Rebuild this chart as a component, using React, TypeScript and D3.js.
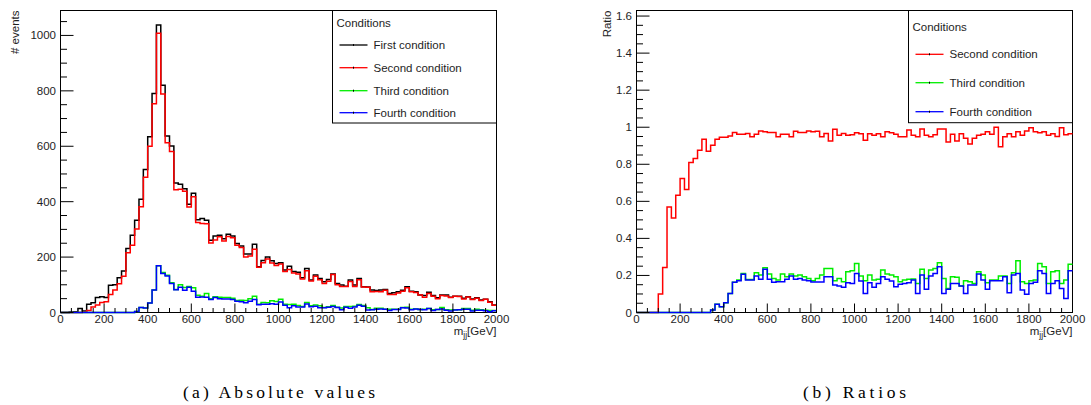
import React from "react";
import * as d3 from "d3";

// Dijet invariant-mass histograms, 20 GeV bins from 0 to 2000 GeV.
const BIN_WIDTH = 20;
const massBins = d3.range(0, 2000, BIN_WIDTH);

const firstCondition = [
  0, 0, 2, 3, 14, 5, 30, 35, 54, 57,
  54, 98, 100, 125, 150, 231, 279, 333, 409, 516,
  634, 790, 1038, 820, 637, 601, 467, 463, 447, 391,
  430, 335, 339, 333, 261, 276, 279, 266, 282, 276,
  249, 240, 211, 211, 246, 165, 188, 200, 187, 177,
  180, 153, 167, 148, 145, 125, 159, 117, 135, 123,
  111, 119, 139, 105, 99, 95, 117, 99, 123, 93,
  92, 81, 79, 81, 83, 69, 71, 75, 80, 93,
  77, 75, 63, 61, 73, 61, 53, 63, 63, 55,
  59, 59, 51, 57, 49, 53, 45, 48, 39, 27,
];

const secondCondition = [
  0, 0, 0, 0, 0, 0.5, 7, 20, 27, 36,
  39, 65, 81, 104, 131, 216, 243, 301, 382, 488,
  600, 753, 1008, 789, 613, 581, 443, 445, 438, 381,
  418, 325, 321, 320, 251, 262, 273, 258, 274, 270,
  243, 235, 200, 204, 228, 163, 180, 193, 179, 170,
  175, 148, 155, 143, 139, 121, 151, 114, 131, 118,
  105, 113, 137, 100, 94, 94, 112, 94, 118, 92,
  91, 75, 76, 75, 80, 65, 65, 70, 77, 89,
  75, 72, 63, 55, 69, 59, 50, 61, 60, 54,
  59, 58, 49, 56, 47, 51, 43, 48, 37, 26,
];

const thirdCondition = [
  0, 0, 0, 0, 0, 0, 0, 0, 0, 0,
  0, 0, 0, 0, 0, 0, 0, 4, 18, 16,
  34, 81, 169, 144, 134, 107, 83, 100, 90, 94,
  89, 62, 59, 69, 50, 57, 55, 54, 54, 51,
  43, 44, 43, 50, 59, 30, 36, 35, 42, 40,
  48, 30, 29, 30, 25, 22, 36, 24, 27, 24,
  18, 21, 25, 19, 16, 22, 22, 23, 29, 25,
  17, 11, 15, 15, 12, 12, 12, 12, 18, 19,
  12, 13, 11, 12, 14, 10, 11, 18, 10, 9,
  10, 10, 14, 14, 8, 12, 10, 8, 7, 7,
];

const fourthCondition = [
  0, 0, 0, 0, 0, 0, 0, 0, 0, 0,
  0, 0, 0, 0, 0, 0, 0, 4, 18, 16,
  34, 81, 169, 141, 132, 105, 82, 91, 80, 91,
  77, 55, 56, 55, 47, 54, 50, 49, 49, 47,
  41, 39, 35, 41, 47, 28, 30, 30, 32, 30,
  38, 26, 17, 24, 20, 20, 31, 21, 23, 17,
  17, 19, 22, 18, 10, 19, 15, 20, 26, 23,
  9, 10, 12, 13, 12, 7, 11, 11, 17, 16,
  10, 13, 11, 10, 14, 7, 11, 13, 8, 5,
  9, 10, 12, 12, 5, 8, 8, 6, 3, 6,
];

// Ratios to the first condition.
const ratioSecond = [
  0, 0, 0, 0, 0, 0.1, 0.243, 0.57, 0.51, 0.633,
  0.723, 0.664, 0.81, 0.831, 0.876, 0.935, 0.871, 0.903, 0.935, 0.946,
  0.946, 0.953, 0.971, 0.962, 0.962, 0.966, 0.948, 0.962, 0.98, 0.975,
  0.971, 0.971, 0.948, 0.962, 0.962, 0.948, 0.978, 0.971, 0.971, 0.98,
  0.975, 0.978, 0.948, 0.966, 0.925, 0.989, 0.957, 0.966, 0.957, 0.96,
  0.97, 0.965, 0.93, 0.965, 0.957, 0.965, 0.948, 0.975, 0.97, 0.962,
  0.948, 0.948, 0.985, 0.957, 0.948, 0.99, 0.957, 0.948, 0.96, 0.99,
  0.99, 0.92, 0.962, 0.925, 0.965, 0.94, 0.91, 0.94, 0.957, 0.962,
  0.975, 0.962, 1.0, 0.895, 0.948, 0.965, 0.948, 0.975, 0.957, 0.98,
  0.997, 0.975, 0.97, 0.975, 0.957, 0.965, 0.95, 0.997, 0.96, 0.965,
];

const ratioThird = [
  0, 0, 0, 0, 0, 0, 0, 0, 0, 0,
  0, 0, 0, 0, 0, 0, 0, 0.013, 0.044, 0.031,
  0.053, 0.103, 0.163, 0.176, 0.211, 0.178, 0.178, 0.215, 0.202, 0.241,
  0.208, 0.184, 0.175, 0.208, 0.193, 0.208, 0.197, 0.202, 0.193, 0.184,
  0.172, 0.184, 0.202, 0.238, 0.238, 0.172, 0.184, 0.166, 0.22, 0.226,
  0.265, 0.197, 0.172, 0.202, 0.175, 0.179, 0.229, 0.208, 0.202, 0.193,
  0.166, 0.175, 0.179, 0.181, 0.157, 0.233, 0.184, 0.229, 0.238, 0.269,
  0.184, 0.13, 0.193, 0.19, 0.143, 0.172, 0.166, 0.157, 0.22, 0.202,
  0.161, 0.175, 0.175, 0.197, 0.197, 0.157, 0.215, 0.279, 0.166, 0.157,
  0.172, 0.175, 0.265, 0.247, 0.157, 0.22, 0.226, 0.157, 0.175, 0.261,
];

const ratioFourth = [
  0, 0, 0, 0, 0, 0, 0, 0, 0, 0,
  0, 0, 0, 0, 0, 0, 0, 0.013, 0.044, 0.031,
  0.053, 0.103, 0.163, 0.172, 0.207, 0.175, 0.175, 0.197, 0.179, 0.233,
  0.179, 0.163, 0.166, 0.166, 0.179, 0.197, 0.179, 0.184, 0.175, 0.172,
  0.164, 0.164, 0.164, 0.193, 0.193, 0.148, 0.143, 0.136, 0.161, 0.157,
  0.211, 0.17, 0.103, 0.161, 0.136, 0.157, 0.193, 0.179, 0.17, 0.139,
  0.152, 0.157, 0.161, 0.175, 0.103, 0.202, 0.125, 0.197, 0.211, 0.247,
  0.103, 0.125, 0.157, 0.157, 0.143, 0.103, 0.148, 0.148, 0.208, 0.175,
  0.125, 0.172, 0.172, 0.172, 0.193, 0.107, 0.202, 0.211, 0.121, 0.098,
  0.157, 0.163, 0.226, 0.211, 0.103, 0.157, 0.172, 0.13, 0.076, 0.226,
];

const massTicks = [0, 200, 400, 600, 800, 1000, 1200, 1400, 1600, 1800, 2000];
const countTicks = [0, 200, 400, 600, 800, 1000];
const countTickLabels = ["0", "200", "400", "600", "800", "1000"];
const ratioTicks = [0, 0.2, 0.4, 0.6, 0.8, 1.0, 1.2, 1.4, 1.6];
const ratioTickLabels = ["0", "0.2", "0.4", "0.6", "0.8", "1", "1.2", "1.4", "1.6"];

const conditionNames = ["First condition", "Second condition", "Third condition", "Fourth condition"];
const conditionColors = ["#000000", "#ff0000", "#00ee00", "#0000ff"];

const FONT = "'Liberation Sans', Arial, Helvetica, sans-serif";
const TEXT = "#1e1e1e";

type Series = { name: string; color: string; values: number[] };

type PanelProps = {
  left: number;
  yMax: number;
  yTicks: number[];
  yTickLabels: string[];
  yMinorStep: number;
  yTitle: string;
  yTitleX: number;
  series: Series[];
  legendRows: number[];
  legendTitleY: number;
  legendBottom: number;
  caption: string;
  captionX: number;
  captionWidth: number;
};

const TOP = 10.5;
const BOTTOM = 312.5;
const WIDTH = 436;

function Panel(p: PanelProps) {
  const x0 = p.left;
  const x1 = p.left + WIDTH;
  const x = d3.scaleLinear().domain([0, 2000]).range([x0, x1]);
  const y = d3.scaleLinear().domain([0, p.yMax]).range([BOTTOM, TOP]);

  const step = (values: number[]) => {
    const pts: [number, number][] = values.map((v, i) => [massBins[i], v]);
    pts.push([massBins[massBins.length - 1] + BIN_WIDTH, values[values.length - 1]]);
    return d3
      .line<[number, number]>()
      .x((d) => x(d[0]))
      .y((d) => y(d[1]))
      .curve(d3.curveStepAfter)(pts) as string;
  };

  const xMinor = d3.range(0, 2001, 50).filter((v) => v % 200 !== 0);
  const yMinor = d3
    .range(0, p.yMax, p.yMinorStep)
    .filter((v) => !p.yTicks.some((t) => Math.abs(t - v) < 1e-6));

  const lgX0 = x1 - 164;
  const lineA = lgX0 + 7;
  const lineB = lgX0 + 35;
  const textX = lgX0 + 41;

  return (
    <g>
      <rect x={x0} y={TOP} width={WIDTH} height={BOTTOM - TOP} fill="#fff" stroke="#000" strokeWidth={1} />

      {p.series.map((s) => (
        <path key={s.name} d={step(s.values)} fill="none" stroke={s.color} strokeWidth={1.5} />
      ))}

      {/* x axis ticks */}
      {massTicks.map((t) => (
        <line key={"xm" + t} x1={x(t)} x2={x(t)} y1={BOTTOM} y2={BOTTOM - 9} stroke="#000" strokeWidth={1} />
      ))}
      {xMinor.map((t) => (
        <line key={"xn" + t} x1={x(t)} x2={x(t)} y1={BOTTOM} y2={BOTTOM - 4.5} stroke="#000" strokeWidth={1} />
      ))}
      {massTicks.map((t) => (
        <text key={"xl" + t} x={x(t)} y={BOTTOM + 10.5} textAnchor="middle" fontSize={11.5} fontFamily={FONT} fill={TEXT}>
          {t}
        </text>
      ))}

      {/* y axis ticks */}
      {p.yTicks.map((t) => (
        <line key={"ym" + t} x1={x0} x2={x0 + 13} y1={y(t)} y2={y(t)} stroke="#000" strokeWidth={1} />
      ))}
      {yMinor.map((t) => (
        <line key={"yn" + t} x1={x0} x2={x0 + 6.5} y1={y(t)} y2={y(t)} stroke="#000" strokeWidth={1} />
      ))}
      {p.yTicks.map((t, i) => (
        <text key={"yl" + t} x={x0 - 4.5} y={y(t) + 4} textAnchor="end" fontSize={11.5} fontFamily={FONT} fill={TEXT}>
          {p.yTickLabels[i]}
        </text>
      ))}

      {/* axis titles */}
      <text x={x1} y={335} textAnchor="end" fontSize={11.5} fontFamily={FONT} fill={TEXT}>
        m
        <tspan fontSize={8.5} dy={3}>jj</tspan>
        <tspan dy={-3}>[GeV]</tspan>
      </text>
      <text
        transform={`translate(${p.yTitleX},${TOP}) rotate(-90)`}
        textAnchor="end"
        fontSize={11.5}
        fontFamily={FONT}
        fill={TEXT}
      >
        {p.yTitle}
      </text>

      {/* legend */}
      <rect x={lgX0} y={TOP} width={164} height={p.legendBottom - TOP} fill="#fff" stroke="#000" strokeWidth={1} />
      <text x={lgX0 + 4} y={p.legendTitleY + 4} fontSize={11.5} fontFamily={FONT} fill={TEXT}>
        Conditions
      </text>
      {p.series.map((s, i) => (
        <g key={"lg" + s.name}>
          <line x1={lineA} x2={lineB} y1={p.legendRows[i]} y2={p.legendRows[i]} stroke={s.color} strokeWidth={1.3} />
          <line
            x1={(lineA + lineB) / 2}
            x2={(lineA + lineB) / 2}
            y1={p.legendRows[i] - 1}
            y2={p.legendRows[i] + 1}
            stroke="#000"
            strokeWidth={1}
          />
          <text x={textX} y={p.legendRows[i] + 4} fontSize={11.5} fontFamily={FONT} fill={TEXT}>
            {s.name}
          </text>
        </g>
      ))}

      {/* caption */}
      <text
        x={p.captionX}
        y={398}
        fontSize={17.5}
        fontFamily="'Liberation Serif', 'Times New Roman', serif"
        fill="#000"
        textLength={p.captionWidth}
        lengthAdjust="spacing"
      >
        {p.caption}
      </text>
    </g>
  );
}

export default function App() {
  const absSeries: Series[] = [
    { name: conditionNames[0], color: conditionColors[0], values: firstCondition },
    { name: conditionNames[1], color: conditionColors[1], values: secondCondition },
    { name: conditionNames[2], color: conditionColors[2], values: thirdCondition },
    { name: conditionNames[3], color: conditionColors[3], values: fourthCondition },
  ];
  const ratioSeries: Series[] = [
    { name: conditionNames[1], color: conditionColors[1], values: ratioSecond },
    { name: conditionNames[2], color: conditionColors[2], values: ratioThird },
    { name: conditionNames[3], color: conditionColors[3], values: ratioFourth },
  ];

  return (
    <svg
      width={1091}
      height={405}
      viewBox="0 0 1091 405"
      style={{ position: "absolute", left: 0, top: 0, background: "#fff" }}
    >
      <rect x={0} y={0} width={1091} height={405} fill="#fff" />
      <Panel
        left={60.5}
        yMax={1090}
        yTicks={countTicks}
        yTickLabels={countTickLabels}
        yMinorStep={50}
        yTitle="# events"
        yTitleX={19}
        series={absSeries}
        legendRows={[45, 67.7, 90.7, 112.7]}
        legendTitleY={23}
        legendBottom={123}
        caption="(a) Absolute values"
        captionX={183}
        captionWidth={192}
      />
      <Panel
        left={636.5}
        yMax={1.63}
        yTicks={ratioTicks}
        yTickLabels={ratioTickLabels}
        yMinorStep={0.05}
        yTitle="Ratio"
        yTitleX={611}
        series={ratioSeries}
        legendRows={[54.3, 82.7, 111.7]}
        legendTitleY={26.7}
        legendBottom={122.7}
        caption="(b) Ratios"
        captionX={803}
        captionWidth={103}
      />
    </svg>
  );
}
